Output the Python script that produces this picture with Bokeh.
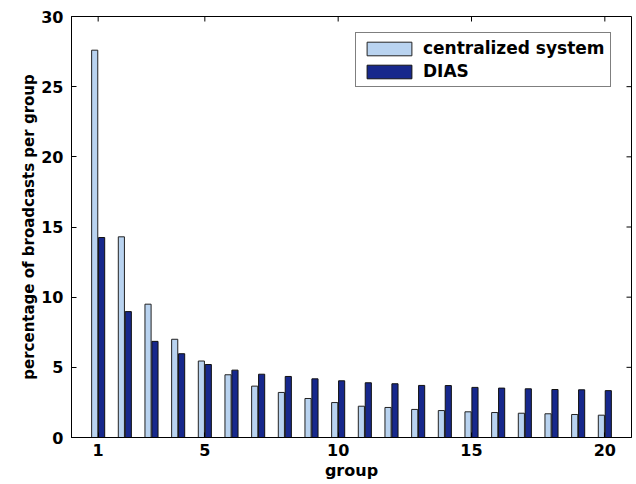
import math
from bokeh.plotting import figure
from bokeh.models import (ColumnDataSource, Range1d, FixedTicker,
                          Legend, LegendItem)
from bokeh.transform import dodge
from bokeh.embed import file_html
from bokeh.resources import INLINE

groups = list(range(1, 21))
centralized = [27.6, 14.3, 9.5, 7.0, 5.45, 4.47, 3.66, 3.21, 2.78, 2.49,
               2.23, 2.14, 2.0, 1.92, 1.83, 1.78, 1.73, 1.69, 1.64, 1.59]
dias = [14.25, 8.97, 6.85, 5.97, 5.2, 4.8, 4.51, 4.35, 4.18, 4.04,
        3.9, 3.83, 3.71, 3.7, 3.57, 3.52, 3.47, 3.42, 3.4, 3.34]
x_ticks = [1, 5, 10, 15, 20]
y_ticks = [0, 5, 10, 15, 20, 25, 30]

FONT = "DejaVu Sans"
FS = "16px"

src = ColumnDataSource(dict(group=groups, centralized=centralized, dias=dias))

xr = Range1d(0, 21)
yr = Range1d(0, 30)
p = figure(width=636, height=484, output_backend="svg", toolbar_location=None,
           x_range=xr, y_range=yr,
           min_border_left=71, min_border_top=16, min_border_right=5,
           min_border_bottom=47)
p.background_fill_color = "white"
p.border_fill_color = "white"
p.outline_line_color = "black"
p.outline_line_width = 1
p.grid.visible = False

r1 = p.vbar(x=dodge("group", -0.13), top="centralized", width=0.23, source=src,
            fill_color="#b9d3f0", line_color="#222222", line_width=1)
r2 = p.vbar(x=dodge("group", 0.13), top="dias", width=0.23, source=src,
            fill_color="#17288c", line_color="#111111", line_width=1)

for ax in (p.xaxis[0], p.yaxis[0]):
    ax.major_tick_in = 5
    ax.major_tick_out = 0
    ax.minor_tick_in = 0
    ax.minor_tick_out = 0
    ax.axis_line_color = "black"
    ax.major_tick_line_color = "black"
    ax.major_label_text_font = FONT
    ax.major_label_text_font_style = "bold"
    ax.major_label_text_font_size = FS
    ax.major_label_text_color = "black"
    ax.axis_label_text_font = FONT
    ax.axis_label_text_font_style = "bold"
    ax.axis_label_text_color = "black"

p.xaxis[0].ticker = FixedTicker(ticks=x_ticks)
p.yaxis[0].ticker = FixedTicker(ticks=y_ticks)
p.xaxis[0].axis_label = "group"
p.yaxis[0].axis_label = "percentage of broadcasts per group"
p.xaxis[0].axis_label_text_font_size = FS
p.yaxis[0].axis_label_text_font_size = "15px"
p.xaxis[0].major_label_standoff = 6
p.xaxis[0].axis_label_standoff = 2
p.yaxis[0].major_label_standoff = 8
p.yaxis[0].axis_label_standoff = 0

# mirrored inward ticks on the top and right edges of the box
p.ray(x=x_ticks, y=[yr.end] * len(x_ticks), length=5, length_units="screen",
      angle=-math.pi / 2, line_color="black", line_width=1)
p.ray(x=[xr.end] * len(y_ticks), y=y_ticks, length=5, length_units="screen",
      angle=math.pi, line_color="black", line_width=1)

legend = Legend(items=[LegendItem(label="centralized system", renderers=[r1]),
                       LegendItem(label="DIAS", renderers=[r2])])
legend.label_text_font = FONT
legend.label_text_font_style = "bold"
legend.label_text_font_size = "17px"
legend.label_text_color = "black"
legend.glyph_width = 56
legend.glyph_height = 17
legend.label_height = 17
legend.label_standoff = 6
legend.spacing = 3
legend.padding = 5
legend.margin = 0
legend.border_line_color = "black"
legend.border_line_width = 1
legend.background_fill_color = "white"
legend.background_fill_alpha = 1
legend.location = (284, 350)
p.add_layout(legend, "center")

open("out.html", "w").write(file_html(p, INLINE))
